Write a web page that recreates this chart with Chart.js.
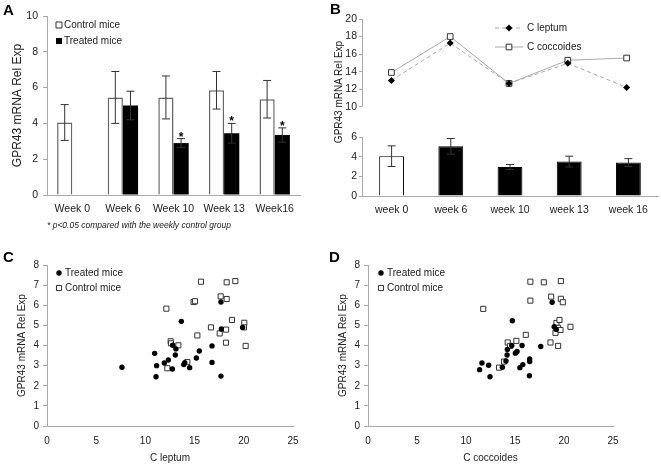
<!DOCTYPE html>
<html>
<head>
<meta charset="utf-8">
<script src="https://cdn.jsdelivr.net/npm/chart.js@4.4.0/dist/chart.umd.min.js"></script>
<style>
  body { margin: 0; background: #fff; }
  #fig { position: relative; width: 661px; height: 465px; font-family: 'Liberation Sans', Arial, sans-serif; color: #222; overflow: hidden; }
  #fig canvas, #fig .lbl { position: absolute; }
  .panel { font-weight: bold; font-size: 15px; line-height: 15px; color: #000; }
  .vtitle { width: 200px; text-align: center; line-height: 12px; transform: rotate(-90deg); white-space: nowrap; }
  .note { font-style: italic; font-size: 8.5px; line-height: 10px; white-space: nowrap; }
</style>
</head>
<body>
<div id="fig">
  <canvas id="chartA" width="330" height="215" style="left:0;top:0"></canvas>
  <canvas id="chartBtop" width="331" height="115" style="left:330px;top:0"></canvas>
  <canvas id="chartBbar" width="331" height="110" style="left:330px;top:115px"></canvas>
  <canvas id="chartC" width="330" height="235" style="left:0;top:230px"></canvas>
  <canvas id="chartD" width="331" height="235" style="left:330px;top:230px"></canvas>

  <div class="lbl panel" style="left:3px;top:2px">A</div>
  <div class="lbl panel" style="left:330px;top:1px">B</div>
  <div class="lbl panel" style="left:3px;top:249px">C</div>
  <div class="lbl panel" style="left:329px;top:249px">D</div>
  <div class="lbl vtitle" style="left:239px;top:86px;font-size:10px">GPR43 mRNA Rel Exp</div>
  <div class="lbl note" style="left:47px;top:220px">* p&lt;0.05 compared with the weekly control group</div>
</div>
<script>
// panel A
const weeksA = ['Week 0', 'Week 6', 'Week 10', 'Week 13', 'Week16'];
const controlMean = [4.05, 5.45, 5.45, 5.85, 5.35];
const controlErr = [1.0, 1.45, 1.2, 1.05, 1.05];
const treatedMean = [0, 5.0, 2.9, 3.45, 3.35];
const treatedErr = [0, 0.8, 0.25, 0.55, 0.4];
const treatedStar = [false, false, true, true, true];

// panel B
const weeksB = ['week 0', 'week 6', 'week 10', 'week 13', 'week 16'];
const leptumB = [13.0, 17.25, 12.65, 14.95, 12.2];
const coccoidesB = [13.9, 18.0, 12.65, 15.3, 15.55];
const gprB = [4.05, 5.05, 2.95, 3.5, 3.4];
const gprErrB = [1.05, 0.8, 0.25, 0.55, 0.4];

// panel C (C leptum)
const cTreatedX = [7.62, 10.94, 11.14, 11.08, 11.92, 12.33, 12.74, 12.77, 13.1, 13.04, 13.65, 13.9, 14.0, 14.5, 15.18, 15.48, 16.77, 16.77, 17.68, 17.72, 17.68, 19.88];
const cTreatedY = [2.92, 3.61, 3.0, 2.45, 3.13, 3.28, 2.83, 4.01, 3.83, 3.53, 5.2, 3.05, 3.15, 2.9, 3.38, 3.73, 3.16, 3.98, 6.16, 4.82, 2.48, 4.9];
const cControlX = [12.13, 12.23, 12.57, 12.6, 13.35, 14.26, 14.9, 15.04, 15.28, 15.65, 16.66, 17.65, 17.55, 18.26, 18.26, 18.2, 18.19, 18.8, 19.14, 20.05, 20.02, 20.19];
const cControlY = [5.83, 2.87, 4.21, 4.11, 4.01, 3.18, 6.16, 6.2, 4.5, 7.17, 4.9, 6.44, 4.6, 7.14, 6.31, 4.79, 4.14, 5.27, 7.2, 5.13, 4.9, 3.98];

// panel D (C coccoides)
const dTreatedX = [11.39, 11.63, 12.31, 12.45, 13.71, 14.19, 14.22, 14.08, 14.67, 14.73, 15.04, 15.21, 15.5, 15.8, 15.72, 16.5, 16.5, 16.47, 17.63, 18.79, 19.0, 19.2];
const dTreatedY = [2.8, 3.13, 3.02, 2.45, 2.92, 3.53, 3.8, 3.23, 4.0, 5.23, 3.62, 3.7, 2.9, 3.05, 4.0, 3.33, 3.2, 2.5, 3.95, 6.15, 4.93, 4.8];
const dControlX = [11.76, 13.37, 13.88, 14.26, 14.5, 15.14, 16.1, 16.57, 16.57, 17.94, 18.69, 18.62, 19.68, 19.68, 19.88, 19.13, 19.23, 19.54, 19.4, 19.64, 19.4, 20.66];
const dControlY = [5.82, 2.9, 3.2, 4.15, 3.98, 4.23, 4.53, 7.17, 6.23, 7.14, 6.43, 4.15, 7.2, 6.32, 6.15, 4.63, 5.12, 5.27, 4.88, 4.77, 3.98, 4.93];

const FONT = "'Liberation Sans', Arial, sans-serif";
const AXIS = '#aaa';
Chart.defaults.font.family = FONT;
Chart.defaults.font.size = 10;
Chart.defaults.color = '#222';
Chart.defaults.animation = false;
Chart.defaults.plugins.legend.display = false;
Chart.defaults.plugins.tooltip.enabled = false;

function toPoints(xs, ys) {
  return xs.map((x, i) => ({x: x, y: ys[i]}));
}

function drawMarker(ctx, style, x, y, r, fill, stroke) {
  ctx.beginPath();
  if (style === 'circle') {
    ctx.arc(x, y, r, 0, Math.PI * 2);
  } else if (style === 'rectRot') {
    ctx.moveTo(x - r, y); ctx.lineTo(x, y - r); ctx.lineTo(x + r, y); ctx.lineTo(x, y + r); ctx.closePath();
  } else if (style === 'rect') {
    const s = r * Math.SQRT1_2;
    ctx.rect(x - s, y - s, 2 * s, 2 * s);
  } else {
    ctx.rect(x - r, y - r, 2 * r, 2 * r);
  }
  ctx.fillStyle = fill; ctx.fill();
  if (stroke) { ctx.lineWidth = 1; ctx.strokeStyle = stroke; ctx.stroke(); }
}

// error bars + significance stars
const errorBars = {
  id: 'errorBars',
  afterDatasetsDraw(chart, args, opts) {
    const ctx = chart.ctx;
    const yScale = chart.scales.y;
    chart.data.datasets.forEach((ds, i) => {
      if (!ds.errors) return;
      const meta = chart.getDatasetMeta(i);
      meta.data.forEach((bar, j) => {
        const err = ds.errors[j];
        if (!err) return;
        const v = ds.data[j];
        const top = yScale.getPixelForValue(v + err);
        const bot = yScale.getPixelForValue(v - err);
        const cap = opts.cap || 4;
        ctx.save();
        ctx.strokeStyle = '#333';
        ctx.lineWidth = 1;
        ctx.beginPath();
        ctx.moveTo(bar.x, top); ctx.lineTo(bar.x, bot);
        ctx.moveTo(bar.x - cap, top); ctx.lineTo(bar.x + cap, top);
        ctx.moveTo(bar.x - cap, bot); ctx.lineTo(bar.x + cap, bot);
        ctx.stroke();
        if (ds.stars && ds.stars[j]) {
          ctx.fillStyle = '#000';
          ctx.font = 'bold 12px ' + FONT;
          ctx.textAlign = 'center';
          ctx.textBaseline = 'alphabetic';
          ctx.fillText('*', bar.x, top + 2);
        }
        ctx.restore();
      });
    });
  }
};

// small legend drawn inside the plot
const keyBox = {
  id: 'keyBox',
  afterDraw(chart, args, opts) {
    if (opts.x === undefined) return;
    const ctx = chart.ctx;
    ctx.save();
    ctx.font = (opts.size || 10) + 'px ' + FONT;
    ctx.textBaseline = 'middle';
    chart.data.datasets.forEach((ds, i) => {
      const x = opts.x, y = opts.y + i * opts.gap;
      if (opts.line) {
        ctx.beginPath();
        ctx.setLineDash(ds.borderDash || []);
        ctx.strokeStyle = ds.borderColor;
        ctx.lineWidth = 1;
        ctx.moveTo(x - opts.line, y); ctx.lineTo(x + opts.line, y);
        ctx.stroke();
        ctx.setLineDash([]);
      }
      if (ds.type === 'bar' || chart.config.type === 'bar') {
        drawMarker(ctx, 'box', x, y, opts.box || 3, ds.backgroundColor, ds.keyStroke);
      } else {
        drawMarker(ctx, ds.pointStyle, x, y, ds.pointRadius, ds.pointBackgroundColor, ds.pointBorderWidth ? ds.pointBorderColor : null);
      }
      ctx.fillStyle = '#222';
      ctx.fillText(ds.label, x + opts.dx, y);
    });
    ctx.restore();
  }
};

// A: weekly bars
new Chart(document.getElementById('chartA'), {
  type: 'bar',
  data: {
    labels: weeksA,
    datasets: [
      {label: 'Control mice', data: controlMean, errors: controlErr, backgroundColor: '#fff', borderColor: '#666', borderWidth: 1.5, keyStroke: '#333'},
      {label: 'Treated mice', data: treatedMean, errors: treatedErr, stars: treatedStar, backgroundColor: '#000', borderColor: '#000', borderWidth: 0}
    ]
  },
  options: {
    responsive: false,
    categoryPercentage: 0.6,
    barPercentage: 1.0,
    layout: {padding: {left: 6, top: 16, right: 30, bottom: 0}},
    scales: {
      x: {
        grid: {drawOnChartArea: false, drawTicks: false, color: AXIS},
        border: {color: AXIS},
        ticks: {padding: 8, font: {size: 10.5}},
        afterFit: s => { s.height = 20; }
      },
      y: {
        min: 0, max: 10,
        ticks: {stepSize: 2, padding: 5, font: {size: 10.5}},
        grid: {drawOnChartArea: false, tickLength: 4, color: AXIS},
        border: {color: AXIS},
        title: {display: true, text: 'GPR43 mRNA Rel Exp', font: {size: 12}, padding: {top: 4, bottom: 0}},
        afterFit: s => { s.width = 41; }
      }
    },
    plugins: {
      errorBars: {cap: 4},
      keyBox: {x: 59, y: 25, gap: 16, dx: 5, box: 3, size: 10}
    }
  },
  plugins: [errorBars, keyBox]
});

// B top: bacteria lines
new Chart(document.getElementById('chartBtop'), {
  type: 'line',
  data: {
    labels: weeksB,
    datasets: [
      {label: 'C leptum', data: leptumB, borderColor: '#aaa', borderWidth: 1, borderDash: [4, 3],
        pointStyle: 'rectRot', pointRadius: 3.5, pointBackgroundColor: '#000', pointBorderColor: '#000', pointBorderWidth: 0},
      {label: 'C coccoides', data: coccoidesB, borderColor: '#aaa', borderWidth: 1,
        pointStyle: 'rect', pointRadius: 4, pointBackgroundColor: '#fff', pointBorderColor: '#333', pointBorderWidth: 1}
    ]
  },
  options: {
    responsive: false,
    layout: {padding: {left: 0, top: 19, right: 3, bottom: 7}},
    scales: {
      x: {display: false, offset: true},
      y: {
        min: 10, max: 20,
        ticks: {stepSize: 2, padding: 2, font: {size: 10.5}},
        grid: {drawOnChartArea: false, tickLength: 3, color: AXIS},
        border: {color: AXIS},
        afterFit: s => { s.width = 32; }
      }
    },
    plugins: {
      keyBox: {x: 179, y: 28, gap: 19, dx: 18, line: 14, size: 10}
    }
  },
  plugins: [keyBox]
});

// B bottom: GPR43 bars
new Chart(document.getElementById('chartBbar'), {
  type: 'bar',
  data: {
    labels: weeksB,
    datasets: [
      {label: 'GPR43', data: gprB, errors: gprErrB,
        backgroundColor: ['#fff', '#000', '#000', '#000', '#000'], borderColor: '#000', borderWidth: 1}
    ]
  },
  options: {
    responsive: false,
    categoryPercentage: 0.42,
    barPercentage: 1.0,
    layout: {padding: {left: 0, top: 22, right: 3, bottom: 0}},
    scales: {
      x: {
        grid: {drawOnChartArea: false, drawTicks: false, color: AXIS},
        border: {color: AXIS},
        ticks: {padding: 8, font: {size: 10.5}},
        afterFit: s => { s.height = 29; }
      },
      y: {
        min: 0, max: 6,
        ticks: {stepSize: 2, padding: 2, font: {size: 10.5}},
        grid: {drawOnChartArea: false, tickLength: 3, color: AXIS},
        border: {color: AXIS},
        afterFit: s => { s.width = 32; }
      }
    },
    plugins: {errorBars: {cap: 4}}
  },
  plugins: [errorBars]
});

function scatterChart(id, xTitle, treated, control, pad, yWidth, keyX) {
  return new Chart(document.getElementById(id), {
    type: 'scatter',
    data: {
      datasets: [
        {label: 'Treated mice', data: treated, pointStyle: 'circle', pointRadius: 2.7,
          pointBackgroundColor: '#000', pointBorderColor: '#000', pointBorderWidth: 0},
        {label: 'Control mice', data: control, pointStyle: 'rect', pointRadius: 3.6,
          pointBackgroundColor: '#fff', pointBorderColor: '#333', pointBorderWidth: 1}
      ]
    },
    options: {
      responsive: false,
      layout: {padding: pad},
      scales: {
        x: {
          min: 0, max: 25,
          ticks: {stepSize: 5, padding: 9},
          grid: {drawOnChartArea: false, drawTicks: false, color: AXIS},
          border: {color: AXIS},
          title: {display: true, text: xTitle, padding: {top: 0, bottom: 1}},
          afterFit: s => { s.height = 39; }
        },
        y: {
          min: 0, max: 8,
          ticks: {stepSize: 1, padding: 4},
          grid: {drawOnChartArea: false, tickLength: 4, color: AXIS},
          border: {color: AXIS},
          title: {display: true, text: 'GPR43 mRNA Rel Exp', padding: {top: 4, bottom: 0}},
          afterFit: s => { s.width = yWidth; }
        }
      },
      plugins: {
        keyBox: {x: keyX, y: 43, gap: 15, dx: 6, size: 10}
      }
    },
    plugins: [keyBox]
  });
}

scatterChart('chartC', 'C leptum', toPoints(cTreatedX, cTreatedY), toPoints(cControlX, cControlY),
  {left: 12, top: 35, right: 37, bottom: 0}, 35, 59);
scatterChart('chartD', 'C coccoides', toPoints(dTreatedX, dTreatedY), toPoints(dControlX, dControlY),
  {left: 3, top: 35, right: 48, bottom: 0}, 35, 51);
</script>
</body>
</html>
